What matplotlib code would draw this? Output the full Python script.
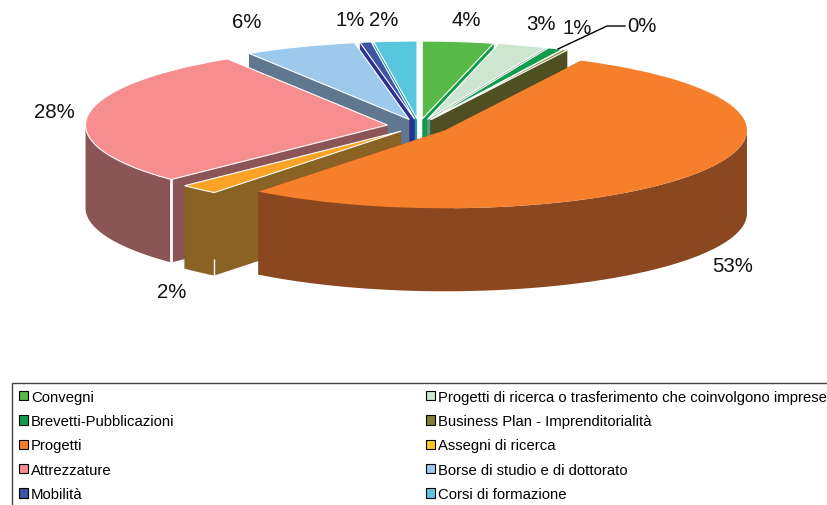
import numpy as np
from matplotlib import pyplot as plt
from matplotlib.patches import Patch
from matplotlib.transforms import Affine2D

W, H = 828, 506

categories = ['Convegni', 'Progetti di ricerca o trasferimento che coinvolgono imprese',
              'Brevetti-Pubblicazioni', 'Business Plan - Imprenditorialità', 'Progetti',
              'Assegni di ricerca', 'Attrezzature', 'Borse di studio e di dottorato',
              'Mobilità', 'Corsi di formazione']
values = [3.8, 2.6, 0.8, 0.25, 53.15, 2.1, 28.4, 6.0, 0.6, 2.3]

top_colors = ['#57b947', '#cde6cf', '#0f9d4b', '#808030', '#f57f2a',
              '#faa326', '#f68e8f', '#9dc9ec', '#3c55a5', '#58c7de']
wall_colors = ['#109b47', '#7d8f80', '#0f7d40', '#4e4f23', '#8b4820',
               '#8a6224', '#8c5555', '#5f7890', '#2e3192', '#1f9ba8']
legend_colors = ['#57b947', '#cde6cf', '#0f9d4b', '#808030', '#f57f2a',
                 '#fdc820', '#f68e8f', '#9dc9ec', '#3c55a5', '#58c7de']

# pixel centres of the percent labels, same order as values
label_x = [466, 541, 577, 642, 733, 172, 54, 247, 350, 384]
label_y = [21, 24, 28, 26, 267, 293, 113, 23, 21, 21]

# back to front
draw_order = [9, 8, 7, 0, 1, 2, 3, 6, 5, 4]

cx, cy = 419, 127    # pie centre in pixels
rx, ry = 302, 78     # ellipse half axes in pixels
depth = 83 / ry      # height of the pie in y units
explode = [0.09, 0.09, 0.09, 0.09, 0.102, 0.09, 0.105, 0.09, 0.09, 0.09]

plt.rcParams['font.family'] = ['Liberation Sans', 'DejaVu Sans']

fig = plt.figure(figsize=(W / 100, H / 100), dpi=100)
ax = fig.add_axes([0, 0, 1, 1])
pix = Affine2D().scale(1 / W, -1 / H).translate(0, 1) + fig.transFigure

wedges, _ = ax.pie(values, explode=explode, colors=top_colors,
                   startangle=90, counterclock=False, radius=1,
                   wedgeprops={'edgecolor': 'white', 'linewidth': 0.8})
ax.set_aspect('auto')
ax.set_xlim(-cx / rx, (W - cx) / rx)
ax.set_ylim((cy - H) / ry, cy / ry)
ax.axis('off')
wedges[4].set_linewidth(0)

fracs = np.array(values) / sum(values)
ends = 90 - 360 * np.cumsum(fracs)
starts = ends + 360 * fracs

for rank, i in enumerate(draw_order):
    a0, a1 = np.radians(starts[i]), np.radians(ends[i])
    mid = (a0 + a1) / 2
    ox, oy = explode[i] * np.cos(mid), explode[i] * np.sin(mid)
    t = np.linspace(a0, a1, 200)
    t = t[np.sin(t) <= 0]    # only the front of the rim shows
    z = 2 * rank + 1
    if len(t) > 1:
        arc_x, arc_y = ox + np.cos(t), oy + np.sin(t)
        ax.fill(np.r_[arc_x, arc_x[::-1]], np.r_[arc_y, arc_y[::-1] - depth],
                color=wall_colors[i], lw=0, zorder=z)
    # the two cut faces
    for a in (a0, a1):
        fx = [ox, ox + np.cos(a), ox + np.cos(a), ox]
        fy = [oy, oy + np.sin(a), oy + np.sin(a) - depth, oy - depth]
        ax.fill(fx, fy, color=wall_colors[i], lw=0, zorder=z)
    wedges[i].set_zorder(z + 1)
    # white corner lines on the two front slices
    if i == 6:
        ax.plot([ox + np.cos(a0)] * 2, [oy + np.sin(a0), oy + np.sin(a0) - depth],
                color='white', lw=2, zorder=z + 0.5, solid_capstyle='butt')
    if i == 5:
        ax.plot([ox + np.cos(a0)] * 2, [oy + np.sin(a0) - 0.8 * depth, oy + np.sin(a0) - depth],
                color='white', lw=1, zorder=z + 0.5, solid_capstyle='butt')

for v, x, y in zip(values, label_x, label_y):
    ax.text(x, y, '%d%%' % round(v), transform=pix, ha='center', va='center',
            fontsize=14.7, color='#111111', zorder=40)

# leader line for the 0% label
ax.plot([558, 607, 625], [50, 27, 27], transform=pix, color='black', lw=1, zorder=39)

# legend fills by columns, so odd rows first
idx = list(range(0, 10, 2)) + list(range(1, 10, 2))
handles = [Patch(facecolor=legend_colors[i], edgecolor='black', linewidth=0.8) for i in idx]
leg = ax.legend(handles, [categories[i] for i in idx], ncol=2, loc='upper left',
                bbox_to_anchor=(12, 384), bbox_transform=pix, borderaxespad=0,
                fontsize=10.7, handlelength=0.6, handleheight=0.6, handletextpad=0.22,
                labelspacing=0.7, columnspacing=16.95, borderpad=0.45, fancybox=False,
                framealpha=1, edgecolor='#444444')
leg.get_frame().set_linewidth(1)
leg.set_zorder(50)

fig.savefig('out.png', dpi=100)
